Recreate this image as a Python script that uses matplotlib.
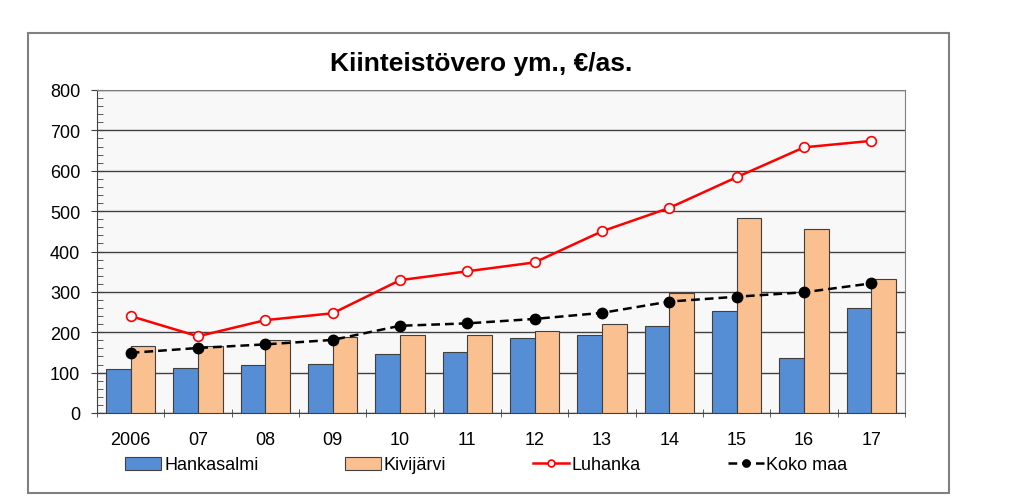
import numpy as np
import matplotlib
matplotlib.use("Agg")
import matplotlib.pyplot as plt
from matplotlib.patches import Rectangle
from matplotlib.ticker import MultipleLocator, FixedLocator

plt.rcParams['font.family'] = ['Liberation Sans', 'DejaVu Sans']

# data
years = ["2006", "07", "08", "09", "10", "11", "12", "13", "14", "15", "16", "17"]
hankasalmi = [108, 111, 118, 121, 146, 152, 185, 193, 216, 252, 135, 259]
kivijarvi = [165, 167, 182, 187, 192, 194, 202, 220, 296, 482, 456, 333]
luhanka = [240, 190, 230, 247, 329, 351, 373, 450, 508, 584, 658, 674]
koko_maa = [149, 161, 170, 181, 216, 222, 233, 248, 276, 288, 299, 321]

fig = plt.figure(figsize=(10.23, 5.02), dpi=100)

# outer chart frame
fig.patches.append(Rectangle((28 / 1023, 1 - 494 / 502), (949 - 28) / 1023, (494 - 34) / 502,
                             transform=fig.transFigure, fill=False, edgecolor="#808080", lw=1.5))

ax = fig.add_axes([97 / 1023, 1 - 414 / 502, (905 - 97) / 1023, (414 - 91) / 502])
ax.set_facecolor("#F8F8F8")

x = np.arange(len(years))
w = 0.365
b1 = ax.bar(x - w / 2, hankasalmi, w, color="#558ED5", edgecolor="#404040", lw=0.8, label="Hankasalmi", zorder=3)
b2 = ax.bar(x + w / 2, kivijarvi, w, color="#FAC090", edgecolor="#404040", lw=0.8, label="Kivijärvi", zorder=3)
l1, = ax.plot(x, luhanka, color="#FF0000", lw=1.8, marker="o", ms=7, mfc="white", mec="#FF0000", mew=1.2,
              label="Luhanka", zorder=4)
l2, = ax.plot(x, koko_maa, color="black", lw=1.8, ls=(0, (3.5, 2)), marker="o", ms=7.5, mfc="black", mec="black",
              label="Koko maa", zorder=5)

ax.set_xlim(-0.5, len(years) - 0.5)
ax.set_ylim(0, 800)
ax.yaxis.set_major_locator(MultipleLocator(100))
ax.yaxis.set_minor_locator(MultipleLocator(20))
ax.grid(axis="y", which="major", color="#404040", lw=1.0, zorder=1)
ax.set_xticks(x)
ax.set_xticklabels(years)
ax.xaxis.set_minor_locator(FixedLocator(np.arange(-0.5, len(years), 1.0)))
ax.tick_params(axis="x", which="major", length=0, labelsize=13, pad=13)
ax.tick_params(axis="x", which="minor", length=6, direction="inout", color="#404040")
ax.tick_params(axis="y", which="major", length=8, direction="inout", labelsize=13, color="#404040", pad=8)
ax.tick_params(axis="y", which="minor", length=4, direction="in", color="#404040")
for side in ["top", "right"]:
    ax.spines[side].set_color("#808080")
for side in ["left", "bottom"]:
    ax.spines[side].set_color("#404040")

fig.text(481 / 1023, 1 - 64 / 502, "Kiinteistövero ym., €/as.", ha="center", va="center",
         fontsize=19, fontweight="bold")

fig.legend([b1, b2, l1, l2], ["Hankasalmi", "Kivijärvi", "Luhanka", "Koko maa"],
           loc="center left", bbox_to_anchor=(118 / 1023, 1 - 466 / 502), ncol=4, frameon=False,
           fontsize=13, handlelength=2.0, handletextpad=0.15, columnspacing=4.8, borderaxespad=0,
           markerscale=0.7)

fig.savefig("out.png", dpi=100)
